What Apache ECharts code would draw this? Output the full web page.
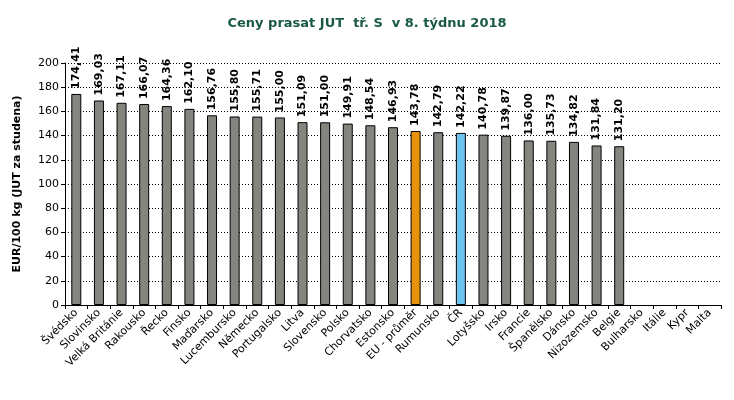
<!DOCTYPE html>
<html><head><meta charset="utf-8">
<script src="https://cdn.jsdelivr.net/npm/echarts@6/dist/echarts.min.js"></script>
<style>html,body{margin:0;padding:0;background:#fff}#c{width:734px;height:400px}</style>
</head><body><div id="c"></div>
<script>
const categories = ["Švédsko","Slovinsko","Velká Británie","Rakousko","Řecko","Finsko","Maďarsko","Lucembursko","Německo","Portugalsko","Litva","Slovensko","Polsko","Chorvatsko","Estonsko","EU - průměr","Rumunsko","ČR","Lotyšsko","Irsko","Francie","Španělsko","Dánsko","Nizozemsko","Belgie","Bulharsko","Itálie","Kypr","Malta"];
const values = [174.41,169.03,167.11,166.07,164.36,162.10,156.76,155.80,155.71,155.00,151.09,151.00,149.91,148.54,146.93,143.78,142.79,142.22,140.78,139.87,136.00,135.73,134.82,131.84,131.20,null,null,null,null];
const yTicks = [0,20,40,60,80,100,120,140,160,180,200];
const FONT = "DejaVu Sans";
const colorFor = name => name === "EU - průměr" ? "#E8920C" : (name === "ČR" ? "#6CC4EC" : "#858580");
const chart = echarts.init(document.getElementById('c'));
chart.setOption({
  animation: false,
  title: { text: "Ceny prasat JUT  tř. S  v 8. týdnu 2018", left: 'center', top: 12,
    textStyle: { fontFamily: FONT, fontSize: 13, fontWeight: 'bold', color: '#1a5a40' } },
  grid: { left: 65, right: 13, top: 63, bottom: 95, containLabel: false },
  xAxis: { type: 'category', data: categories,
    axisLine: { lineStyle: { color: '#000' } },
    axisTick: { show: true, alignWithLabel: false, lineStyle: { color: '#000' }, length: 4 },
    axisLabel: { rotate: 45, interval: 0, fontFamily: FONT, fontSize: 11, color: '#000', margin: 6 } },
  yAxis: { type: 'value', min: yTicks[0], max: yTicks[yTicks.length-1], interval: 20,
    name: "EUR/100 kg (JUT za studena)", nameLocation: 'middle', nameGap: 42,
    nameTextStyle: { fontFamily: FONT, fontSize: 11, fontWeight: 'bold', color: '#000' },
    axisLine: { show: true, lineStyle: { color: '#000' } },
    axisTick: { show: true, length: 4, lineStyle: { color: '#000' } },
    axisLabel: { fontFamily: FONT, fontSize: 11, color: '#000', margin: 6 },
    splitLine: { lineStyle: { color: '#000', type: [1, 2], width: 1 } } },
  series: [{
    type: 'bar', barWidth: 10,
    data: values.map((v, i) => ({ value: v, itemStyle: { color: colorFor(categories[i]) } })),
    itemStyle: { borderColor: '#000', borderWidth: 1 },
    label: { show: true, position: 'top', rotate: 90, align: 'left', verticalAlign: 'middle', distance: 5,
      fontFamily: FONT, fontSize: 11, fontWeight: 'bold', color: '#000',
      formatter: p => p.value == null ? '' : p.value.toFixed(2).replace('.', ',') }
  }]
});
</script></body></html>
